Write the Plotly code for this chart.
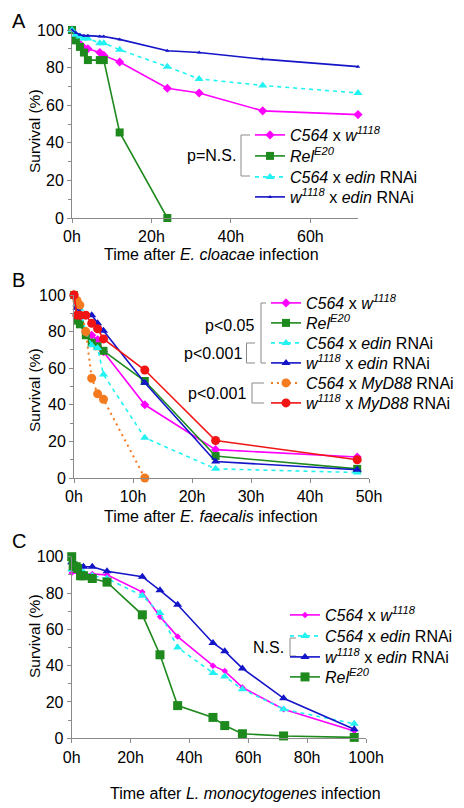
import plotly.graph_objects as go

W, H = 464, 808
OFF = 8  # page body margin in the browser; positions below are given in page pixels

# ---------------- Data ----------------
# Panel A: E. cloacae
tA = [0, 1, 2, 3, 4, 7, 8, 12, 24, 32, 48, 72]
A_c564_w1118 = [100, 96, 92.5, 90.5, 90, 88, 86.5, 83, 69, 66.5, 57, 55]
A_c564_edin = [100, 97.5, 96.5, 95.5, 95.5, 93, 93, 89.5, 80.5, 74, 70.5, 66.5]
A_w1118_edin = [100, 98.5, 97.5, 97, 97, 96.5, 96.5, 95, 89, 88, 84.5, 80.5]
tA_rel = [0, 1, 2, 3, 4, 7, 8, 12, 24]
A_rel = [100, 94.5, 91, 88, 84, 84, 84, 45.5, 0]

# Panel B: E. faecalis
tB = [0, 0.5, 1, 2, 3, 4, 5, 12, 24, 48]
B_c564_w1118 = [100, 94, 88, 80, 78, 75.5, 69, 40, 15.5, 11.5]
B_rel = [100, 86, 84, 78, 74, 72, 69.5, 53, 12, 5]
B_c564_edin = [100, 95, 92.5, 80, 72.5, 71, 56.5, 22, 5, 3]
B_w1118_edin = [100, 93, 90, 89, 89, 84.5, 80.5, 52, 9, 4.5]
tB_myd = [0, 0.5, 1, 2, 3, 4, 5, 12]
B_c564_myd88 = [100, 97, 94.5, 80, 54.5, 46, 43, 0]
B_w1118_myd88 = [100, 89, 89, 89, 84.5, 81.5, 76, 59, 20.5, 10]

# Panel C: L. monocytogenes
tC = [0, 4, 7, 12, 24, 30, 36, 48, 52, 58, 72, 96]
C_c564_w1118 = [91, 90.5, 90.5, 90, 80.5, 67, 56, 40, 37, 28, 16, 4]
C_c564_edin = [93, 91.5, 89.5, 88, 78.5, 69, 50, 36, 34, 27, 16, 8]
tC_w = [0, 1, 4, 7, 12, 24, 30, 36, 48, 52, 58, 72, 96]
C_w1118_edin = [97, 96, 94.5, 94.5, 92, 89, 81.5, 73.5, 52.5, 48, 38.5, 22, 5]
tC_rel = [0, 0.5, 1.5, 2, 3, 4, 7, 12, 24, 30, 36, 48, 52, 58, 72, 96]
C_rel = [100, 95, 94.5, 93.5, 89.5, 89.5, 88, 86, 68, 46, 18, 11.5, 7, 2.5, 1.3, 0.5]

# Labels
L_c564_w1118 = "<i>C564</i> x <i>w<sup>1118</sup></i>"
L_rel = "<i>Rel<sup>E20</sup></i>"
L_c564_edin = "<i>C564</i> x <i>edin</i> RNAi"
L_w1118_edin = "<i>w<sup>1118</sup></i> x <i>edin</i> RNAi"
L_c564_myd = "<i>C564</i> x <i>MyD88</i> RNAi"
L_w1118_myd = "<i>w<sup>1118</sup></i> x <i>MyD88</i> RNAi"

# ---------------- Styles ----------------
MAG = "#FF00FF"
GRN = "#1E8A1E"
CYN = "#22F2F2"
BLU = "#1414C8"
ORG = "#F47A20"
RED = "#F01414"
GRAY = "#8A8A8A"
FONT = "Liberation Sans, Arial, sans-serif"


def px(x):
    return (x - OFF) / W


def py(y):
    return 1 - (y - OFF) / H


fig = go.Figure()
legend_layout = {}
legend_count = [0]


def add(x, y, name, color, symbol, size, ax, leg_x, leg_y, dash="solid", lw=1.6):
    legend_count[0] += 1
    k = legend_count[0]
    lname = "legend" if k == 1 else f"legend{k}"
    fig.add_trace(go.Scatter(
        x=x, y=y, name=name, mode="lines+markers",
        line=dict(color=color, width=lw, dash=dash),
        marker=dict(symbol=symbol, size=size, color=color, line=dict(width=0)),
        xaxis="x" + ax, yaxis="y" + ax, cliponaxis=False,
        legend=lname, showlegend=True,
    ))
    legend_layout[lname] = dict(
        x=px(leg_x - 40), y=py(leg_y), xanchor="left", yanchor="middle",
        bgcolor="rgba(0,0,0,0)", borderwidth=0,
        font=dict(family=FONT, size=16, color="black"),
    )


# Panel A
xa = 290
add(tA, A_c564_w1118, L_c564_w1118, MAG, "diamond", 7, "", xa, 135)
add(tA_rel, A_rel, L_rel, GRN, "square", 8, "", xa, 156)
add(tA, A_c564_edin, L_c564_edin, CYN, "triangle-up", 8, "", xa, 177, dash="4px,4px")
add(tA, A_w1118_edin, L_w1118_edin, BLU, "triangle-up", 4, "", xa, 197)

# Panel B
xb = 306
add(tB, B_c564_w1118, L_c564_w1118, MAG, "diamond", 7, "2", xb, 303)
add(tB, B_rel, L_rel, GRN, "square", 8, "2", xb, 323)
add(tB, B_c564_edin, L_c564_edin, CYN, "triangle-up", 8, "2", xb, 343, dash="4px,4px")
add(tB, B_w1118_edin, L_w1118_edin, BLU, "triangle-up", 8, "2", xb, 363)
add(tB_myd, B_c564_myd88, L_c564_myd, ORG, "circle", 9, "2", xb, 383, dash="2px,4px", lw=2)
add(tB, B_w1118_myd88, L_w1118_myd, RED, "circle", 9, "2", xb, 403)

# Panel C
xc = 325
add(tC, C_c564_w1118, L_c564_w1118, MAG, "diamond", 5, "3", xc, 615)
add(tC, C_c564_edin, L_c564_edin, CYN, "triangle-up", 8, "3", xc, 636, dash="4px,4px")
add(tC_w, C_w1118_edin, L_w1118_edin, BLU, "triangle-up", 8, "3", xc, 657)
add(tC_rel, C_rel, L_rel, GRN, "square", 9, "3", xc, 677)

axis_common = dict(
    showline=True, linecolor=GRAY, linewidth=1, ticks="outside", ticklen=4,
    tickcolor=GRAY, showgrid=False, zeroline=False, automargin=False,
    tickfont=dict(family=FONT, size=16, color="black"),
)


def xax(domain, rng, dtick, anchor):
    return dict(axis_common, domain=domain, range=rng, dtick=dtick, tick0=0,
                ticksuffix="h", anchor=anchor)


def yax(domain, anchor):
    return dict(axis_common, domain=domain, range=[0, 100], dtick=20, tick0=0,
                anchor=anchor,
                minor=dict(dtick=10, tick0=0, ticks="outside", ticklen=3, tickcolor=GRAY))


layout = dict(
    width=W, height=H, autosize=False,
    margin=dict(l=0, r=0, t=0, b=0, pad=0, autoexpand=False),
    paper_bgcolor="white", plot_bgcolor="white",
    font=dict(family=FONT, size=16, color="black"),
    xaxis=xax([px(72), px(358)], [0, 72], 20, "y"),
    yaxis=yax([py(218), py(30)], "x"),
    xaxis2=xax([px(74), px(369)], [0, 50], 10, "y2"),
    yaxis2=yax([py(478), py(295)], "x2"),
    xaxis3=xax([px(71.7), px(366)], [0, 100], 20, "y3"),
    yaxis3=yax([py(738.3), py(556.7)], "x3"),
)
layout.update(legend_layout)
fig.update_layout(**layout)

# Annotations: titles, panel letters, p-values
ann = []


def text(x, y, s, size=16, xanchor="center", angle=0):
    ann.append(dict(x=px(x), y=py(y), xref="paper", yref="paper", text=s,
                    showarrow=False, xanchor=xanchor, yanchor="middle",
                    textangle=angle, font=dict(family=FONT, size=size, color="black")))


text(10, 21, "A", size=20, xanchor="left")
text(10, 280, "B", size=20, xanchor="left")
text(10, 541, "C", size=20, xanchor="left")

text(211, 254, "Time after <i>E. cloacae</i> infection")
text(211, 516, "Time after <i>E. faecalis</i> infection")
text(245, 793, "Time after <i>L. monocytogenes</i> infection")

text(34, 131, "Survival (%)", size=15.5, angle=-90)
text(34, 390, "Survival (%)", size=15.5, angle=-90)
text(34, 636, "Survival (%)", size=15.5, angle=-90)

text(238, 156, "p=N.S.", xanchor="right")
text(256, 325, "p<0.05", xanchor="right")
text(244, 354, "p<0.001", xanchor="right")
text(248, 393, "p<0.001", xanchor="right")
text(286, 647, "N.S.", xanchor="right")

fig.update_layout(annotations=ann)

# Brackets
shapes = []


def bracket(x, y0, y1, x_end):
    pts = f"M {px(x_end)},{py(y0)} L {px(x)},{py(y0)} L {px(x)},{py(y1)} L {px(x_end)},{py(y1)}"
    shapes.append(dict(type="path", path=pts, xref="paper", yref="paper",
                       line=dict(color=GRAY, width=1)))


bracket(241, 135, 176, 250)
bracket(261, 303, 363, 266)
bracket(246.5, 343, 363, 255)
bracket(252, 383, 403, 264)
bracket(290, 638, 656, 296)
fig.update_layout(shapes=shapes)

fig.write_html("out.html")
